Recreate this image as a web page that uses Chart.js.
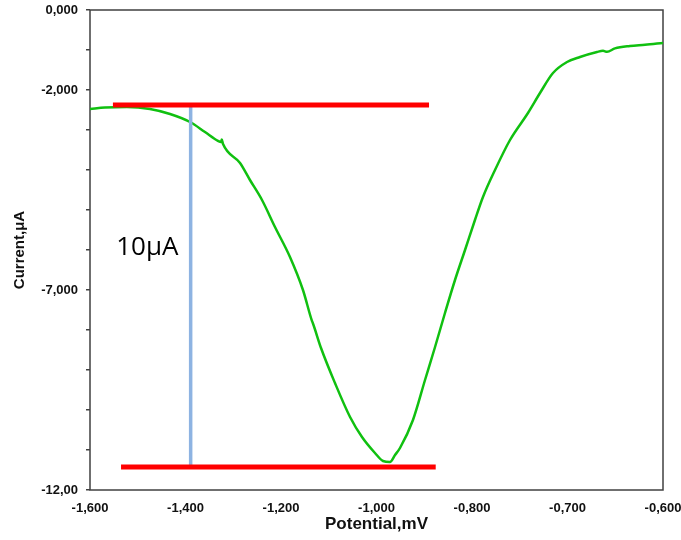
<!DOCTYPE html>
<html>
<head>
<meta charset="utf-8">
<script src="https://cdn.jsdelivr.net/npm/chart.js@4.4.1/dist/chart.umd.min.js"></script>
<style>
  html, body { margin: 0; padding: 0; background: #fff; }
  #wrap { width: 681px; height: 540px; }
</style>
</head>
<body>
<div id="wrap"><canvas id="myChart"></canvas></div>
<script>
// x is counted in tick steps (0 = -1,600 ... 6 = -0,600) because the axis labels are not evenly spaced in value
const xTickLabels = ['-1,600', '-1,400', '-1,200', '-1,000', '-0,800', '-0,700', '-0,600'];
const yTickValues = [0, -2, -7, -12];
const yTickLabels = ['0,000', '-2,000', '-7,000', '-12,00'];

// green voltammogram
const curveX = [0, 0.157, 0.387, 0.628, 0.838, 1.047, 1.204, 1.34, 1.372, 1.38, 1.393, 1.571, 1.675, 1.801,
  1.937, 2.094, 2.23, 2.325, 2.332, 2.419, 2.565, 2.723, 2.848, 2.984, 3.068, 3.141, 3.194, 3.246, 3.382,
  3.508, 3.613, 3.717, 3.822, 3.927, 4.031, 4.115, 4.241, 4.398, 4.586, 4.712, 4.848, 4.995, 5.131, 5.309,
  5.372, 5.414, 5.497, 5.654, 5.812, 6.0];
const curveY = [-2.475, -2.44, -2.425, -2.475, -2.6, -2.8, -3.05, -3.27, -3.3, -3.24, -3.35, -3.825, -4.25, -4.75,
  -5.425, -6.175, -7.0, -7.78, -7.82, -8.45, -9.325, -10.175, -10.675, -11.075, -11.275, -11.3, -11.125, -10.95, -10.25,
  -9.25, -8.425, -7.575, -6.75, -6.0, -5.25, -4.675, -4.0, -3.25, -2.575, -2.075, -1.575, -1.3, -1.175, -1.05,
  -1.02, -1.045, -0.96, -0.9, -0.87, -0.825];

// red baselines and the blue scale bar
const upperLineX = [0.24, 3.55];
const upperLineY = [-2.375, -2.375];
const lowerLineX = [0.325, 3.62];
const lowerLineY = [-11.425, -11.425];
const barX = [1.054, 1.054];
const barY = [-2.375, -11.4];
const noteText = '10μA';
const noteX = 0.6;
const noteY = -5.95;

function toPoints(xs, ys) {
  return xs.map(function (x, i) { return { x: x, y: ys[i] }; });
}

const frame = {
  id: 'frame',
  beforeDatasetsDraw(chart) {
    const a = chart.chartArea;
    const ctx = chart.ctx;
    ctx.save();
    ctx.strokeStyle = '#404040';
    ctx.lineWidth = 1.5;
    ctx.strokeRect(a.left, a.top, a.right - a.left, a.bottom - a.top);
    ctx.restore();
  }
};

const note = {
  id: 'note',
  afterDatasetsDraw(chart) {
    const ctx = chart.ctx;
    const px = chart.scales.x.getPixelForValue(noteX);
    const py = chart.scales.y.getPixelForValue(noteY);
    ctx.save();
    ctx.font = '26px "Open Sans"';
    ctx.fillStyle = '#000';
    ctx.textAlign = 'center';
    ctx.textBaseline = 'middle';
    ctx.fillText(noteText, px, py);
    ctx.restore();
  }
};

const ctx = document.getElementById('myChart').getContext('2d');
const chart = new Chart(ctx, {
  type: 'line',
  data: {
    datasets: [{
      data: toPoints(upperLineX, upperLineY),
      borderColor: '#ff0000',
      borderWidth: 5,
      pointRadius: 0,
      order: 0
    }, {
      data: toPoints(lowerLineX, lowerLineY),
      borderColor: '#ff0000',
      borderWidth: 5,
      pointRadius: 0,
      order: 0
    }, {
      data: toPoints(barX, barY),
      borderColor: '#8db3e2',
      borderWidth: 3.5,
      pointRadius: 0,
      order: 1
    }, {
      data: toPoints(curveX, curveY),
      borderColor: '#10c010',
      borderWidth: 2.5,
      pointRadius: 0,
      cubicInterpolationMode: 'monotone',
      order: 2
    }]
  },
  options: {
    responsive: true,
    maintainAspectRatio: false,
    animation: false,
    layout: { padding: { top: 10, right: 18, left: 0, bottom: 0 } },
    plugins: { legend: { display: false }, tooltip: { enabled: false } },
    scales: {
      x: {
        type: 'linear',
        min: 0,
        max: 6,
        grid: { display: false },
        border: { display: false },
        afterBuildTicks: function (scale) {
          scale.ticks = xTickLabels.map(function (l, i) { return { value: i }; });
        },
        afterFit: function (scale) {
          scale.height = 50;
          scale.paddingLeft = 0;
          scale.paddingRight = 0;
        },
        ticks: {
          autoSkip: false,
          maxRotation: 0,
          padding: 3,
          color: '#111',
          font: { family: 'Liberation Sans', size: 13, weight: 'bold' },
          callback: function (v) { return xTickLabels[v]; }
        },
        title: {
          display: true,
          text: 'Potential,mV',
          color: '#111',
          font: { family: 'Liberation Sans', size: 17, weight: 'bold' },
          padding: { top: 0, bottom: 5 }
        }
      },
      y: {
        type: 'linear',
        min: -12,
        max: 0,
        grid: { display: true, drawOnChartArea: false, drawTicks: true, tickLength: 4, color: '#404040', lineWidth: 1.5 },
        border: { display: false },
        afterBuildTicks: function (scale) {
          const t = [];
          for (let v = 0; v >= -12; v--) t.push({ value: v });
          scale.ticks = t;
        },
        afterFit: function (scale) {
          scale.width = 90;
          scale.paddingTop = 0;
          scale.paddingBottom = 0;
        },
        ticks: {
          autoSkip: false,
          padding: 8,
          color: '#111',
          font: { family: 'Liberation Sans', size: 13, weight: 'bold' },
          callback: function (v) {
            const i = yTickValues.indexOf(v);
            return i >= 0 ? yTickLabels[i] : '';
          }
        },
        title: {
          display: true,
          text: 'Current,μA',
          color: '#111',
          font: { family: 'Liberation Sans', size: 15, weight: 'bold' },
          padding: { top: 11, bottom: 0 }
        }
      }
    }
  },
  plugins: [frame, note]
});
</script>
</body>
</html>
